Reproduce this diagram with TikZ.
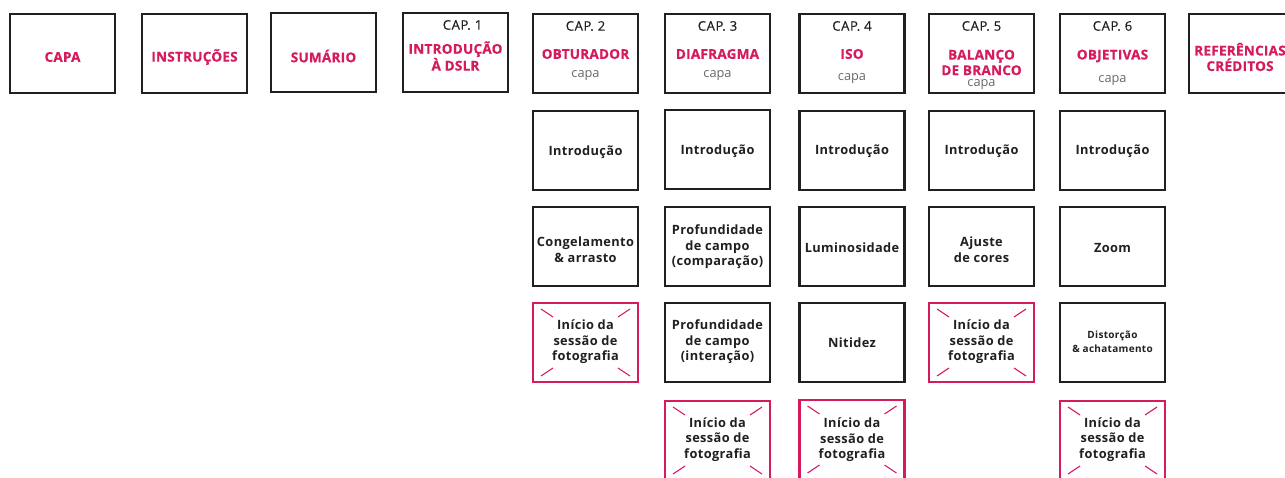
\documentclass[tikz,border=0pt]{standalone}
\usepackage{fontspec}
\setmainfont{Open Sans}
\definecolor{pinkc}{RGB}{214,26,94}
\definecolor{boxc}{RGB}{35,31,32}
\definecolor{greyc}{RGB}{105,105,105}
\begin{document}
\begin{tikzpicture}[x=1pt,y=-1pt,
 box/.style={draw=boxc,line width=2.4pt,minimum width=105pt,minimum height=79pt,inner sep=0pt},
 sess/.style={box,draw=pinkc,path picture={
   \draw[pinkc,line width=1.1pt] ([shift={(8pt,-6pt)}]path picture bounding box.north west) -- ++(12pt,-8pt);
   \draw[pinkc,line width=1.1pt] ([shift={(-8pt,-6pt)}]path picture bounding box.north east) -- ++(-12pt,-8pt);
   \draw[pinkc,line width=1.1pt] ([shift={(8pt,6pt)}]path picture bounding box.south west) -- ++(12pt,8pt);
   \draw[pinkc,line width=1.1pt] ([shift={(-8pt,6pt)}]path picture bounding box.south east) -- ++(-12pt,8pt);
 }},
 ttl/.style={text=pinkc,font=\fontsize{13.5}{15.5}\selectfont\bfseries\addfontfeature{LetterSpace=2,FakeBold=0.6},align=center,inner sep=0pt},
 captxt/.style={text=boxc,font=\fontsize{13.2}{15}\selectfont\addfontfeature{LetterSpace=4,FakeBold=0.3},inner sep=0pt},
 lbl/.style={text=boxc,font=\fontsize{12.8}{15.5}\selectfont\bfseries\addfontfeature{LetterSpace=3},align=center,inner sep=0pt},
 sml/.style={text=boxc,font=\fontsize{10}{14}\selectfont\bfseries\addfontfeature{LetterSpace=3},align=center,inner sep=0pt},
 sub/.style={text=greyc,font=\fontsize{12.8}{15}\selectfont,inner sep=0pt},
]
\useasboundingbox[fill=white] (0,0) rectangle (1285,478);

% top row
\node[box] (capa) at (62.5,53.5) {};
\node[ttl] (capat) at (62.5,57) {CAPA};
\node[box] (instr) at (194.5,53.5) {};
\node[ttl] (instrt) at (194.5,57) {INSTRUÇÕES};
\node[box] (sum) at (323.5,52.5) {};
\node[ttl] (sumt) at (323.5,56) {SUMÁRIO};
\node[box] (c1) at (455.5,52.5) {};
\node[captxt] (c1c) at (462.5,25) {CAP. 1};
\node[ttl] (c1t) at (455.5,56) {INTRODUÇÃO\\À DSLR};
\node[box] (c2) at (585.5,53.5) {};
\node[captxt] (c2c) at (585.5,26) {CAP. 2};
\node[ttl] (c2t) at (585.5,54) {OBTURADOR};
\node[sub] (c2s) at (585.5,75.5) {capa};
\node[box] (c3) at (717.5,53.5) {};
\node[captxt] (c3c) at (717.5,26) {CAP. 3};
\node[ttl] (c3t) at (717.5,54) {DIAFRAGMA};
\node[sub] (c3s) at (717.5,75.5) {capa};
\node[box] (c4) at (852,53.5) {};
\node[captxt] (c4c) at (852,26) {CAP. 4};
\node[ttl] (c4t) at (852,54) {ISO};
\node[sub] (c4s) at (852,78.5) {capa};
\node[box] (c5) at (981.5,53.5) {};
\node[captxt] (c5c) at (981.5,26) {CAP. 5};
\node[ttl] (c5t) at (981.5,62.5) {BALANÇO\\DE BRANCO};
\node[sub] (c5s) at (981.5,85) {capa};
\node[box] (c6) at (1112.5,53.5) {};
\node[captxt] (c6c) at (1112.5,26) {CAP. 6};
\node[ttl] (c6t) at (1112.5,56) {OBJETIVAS};
\node[sub] (c6s) at (1112.5,80.5) {capa};
\node[box] (ref) at (1241.5,53.5) {};
\node[ttl] (reft) at (1240,57) {REFERÊNCIAS\\CRÉDITOS};

% column 2
\node[box] (c2r2) at (585.5,150.5) {};
\node[lbl] (c2r2t) at (585.5,152.5) {Introdução};
\node[box] (c2r3) at (585.5,246.5) {};
\node[lbl] (c2r3t) at (585.5,249.5) {Congelamento\\\& arrasto};
\node[sess] (c2r4) at (585.5,342.5) {};
\node[lbl] (c2r4t) at (585.5,342) {Início da\\sessão de\\fotografia};

% column 3
\node[box] (c3r2) at (717.5,149.5) {};
\node[lbl] (c3r2t) at (717.5,151.5) {Introdução};
\node[box] (c3r3) at (717.5,246.5) {};
\node[lbl] (c3r3t) at (717.5,247) {Profundidade\\de campo\\(comparação)};
\node[box] (c3r4) at (717.5,342.5) {};
\node[lbl] (c3r4t) at (717.5,342) {Profundidade\\de campo\\(interação)};
\node[sess] (c3r5) at (717.5,440.5) {};
\node[lbl] (c3r5t) at (717.5,439.5) {Início da\\sessão de\\fotografia};

% column 4
\node[box] (c4r2) at (852,150.5) {};
\node[lbl] (c4r2t) at (852,151.5) {Introdução};
\node[box] (c4r3) at (852,246.5) {};
\node[lbl] (c4r3t) at (852,247.5) {Luminosidade};
\node[box] (c4r4) at (852,342.5) {};
\node[lbl] (c4r4t) at (852,342.5) {Nitidez};
\node[sess] (c4r5) at (852,439.5) {};
\node[lbl] (c4r5t) at (852,440) {Início da\\sessão de\\fotografia};

% column 5
\node[box] (c5r2) at (981.5,150.5) {};
\node[lbl] (c5r2t) at (981.5,151.5) {Introdução};
\node[box] (c5r3) at (981.5,246.5) {};
\node[lbl] (c5r3t) at (981.5,249.5) {Ajuste\\de cores};
\node[sess] (c5r4) at (981.5,342.5) {};
\node[lbl] (c5r4t) at (981.5,342) {Início da\\sessão de\\fotografia};

% column 6
\node[box] (c6r2) at (1112.5,150.5) {};
\node[lbl] (c6r2t) at (1112.5,151.5) {Introdução};
\node[box] (c6r3) at (1112.5,246.5) {};
\node[lbl] (c6r3t) at (1112.5,247.5) {Zoom};
\node[box] (c6r4) at (1112.5,342.5) {};
\node[sml] (c6r4t) at (1112.5,342) {Distorção\\\& achatamento};
\node[sess] (c6r5) at (1112.5,440.5) {};
\node[lbl] (c6r5t) at (1112.5,439.5) {Início da\\sessão de\\fotografia};
\end{tikzpicture}
\end{document}
